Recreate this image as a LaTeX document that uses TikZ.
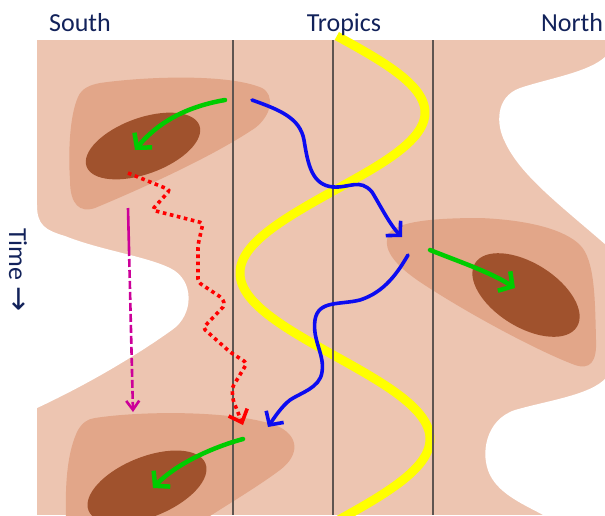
\documentclass[tikz,border=0pt]{standalone}
\usepackage{fontspec}
\setmainfont{Carlito}
\newfontfamily\dejavu{DejaVu Sans}
\usetikzlibrary{arrows.meta}
\definecolor{bgpink}{RGB}{237,197,177}
\definecolor{midblob}{RGB}{226,166,137}
\definecolor{darkblob}{RGB}{160,82,45}
\definecolor{txtblue}{RGB}{18,34,90}
\definecolor{gridline}{RGB}{95,85,80}
\definecolor{grn}{RGB}{0,204,0}
\definecolor{blu}{RGB}{12,12,240}
\definecolor{mag}{RGB}{204,0,153}
\definecolor{ylw}{RGB}{255,255,0}
\begin{document}
\begin{tikzpicture}[x=1pt,y=1pt,
  lbl/.style={font=\fontsize{26}{30}\selectfont, text=txtblue, inner sep=0pt},
  midfill/.style={fill=midblob},
  darkfill/.style={fill=darkblob},
  gridl/.style={draw=gridline, line width=1.3pt},
  garrow/.style={draw=grn, line width=4.5pt, line cap=round, -{Straight Barb[length=10pt,width=23pt]}},
  barrow/.style={draw=blu, line width=3.6pt, line cap=round, -{Straight Barb[length=10pt,width=21pt]}},
  rarrow/.style={draw=red, line width=3.6pt, dash pattern=on 3.6pt off 3.6pt, rounded corners=3pt, -{Straight Barb[length=11pt,width=20pt]}},
  marrow/.style={draw=mag, line width=2.6pt, -{Straight Barb[length=9pt,width=13pt]}},
]
\useasboundingbox (0,0) rectangle (605,-515);
\clip (0,0) rectangle (605,-515);
% background band
\fill[bgpink] (37,-40) rectangle (605,-515);
% white cut-outs
\fill[white] (30,-205) -- (37,-205) .. controls (37,-225) and (45,-230) .. (65,-236)
  .. controls (100,-250) and (145,-256) .. (170,-268)
  .. controls (195,-280) and (194,-315) .. (172,-330)
  .. controls (130,-360) and (80,-388) .. (37,-408) -- (30,-408) -- cycle;
\fill[white] (606,-56) .. controls (590,-72) and (550,-78) .. (520,-88)
  .. controls (495,-97) and (496,-125) .. (505,-142)
  .. controls (520,-175) and (560,-205) .. (606,-245) -- cycle;
\fill[white] (606,-378) .. controls (590,-395) and (550,-400) .. (515,-410)
  .. controls (485,-420) and (480,-455) .. (490,-475)
  .. controls (500,-495) and (525,-505) .. (545,-516) -- (606,-516) -- cycle;
% medium blobs
\fill[midfill] (100,-83) .. controls (150,-76) and (230,-74) .. (262,-88)
  .. controls (275,-95) and (272,-115) .. (255,-128)
  .. controls (215,-155) and (150,-185) .. (95,-208)
  .. controls (80,-213) and (70,-205) .. (70,-180)
  .. controls (68,-150) and (70,-115) .. (78,-97)
  .. controls (82,-88) and (90,-85) .. (100,-83) -- cycle;
\fill[midfill] (390,-232) .. controls (400,-222) and (430,-218) .. (480,-218)
  .. controls (530,-220) and (565,-230) .. (580,-245)
  .. controls (595,-260) and (595,-300) .. (596,-340)
  .. controls (597,-362) and (590,-370) .. (575,-365)
  .. controls (540,-352) and (470,-315) .. (420,-282)
  .. controls (395,-265) and (380,-248) .. (390,-232) -- cycle;
\fill[midfill] (95,-418) .. controls (140,-411) and (230,-410) .. (275,-425)
  .. controls (300,-435) and (300,-455) .. (280,-470)
  .. controls (260,-485) and (235,-500) .. (210,-516) -- (66,-516)
  .. controls (65,-480) and (68,-450) .. (78,-430)
  .. controls (83,-422) and (88,-419) .. (95,-418) -- cycle;
% dark cores
\fill[darkfill, rotate around={20:(143,-146)}] (143,-146) ellipse [x radius=60pt, y radius=28pt];
\fill[darkfill, rotate around={-32:(526,-295)}] (526,-295) ellipse [x radius=60pt, y radius=32pt];
\fill[darkfill, rotate around={22:(147,-487)}] (147,-487) ellipse [x radius=63pt, y radius=30pt];
% yellow wave
\draw[ylw, line width=9pt]
  plot[domain=36:190, samples=80] ({335+90*sin((\x-35)/155*180)}, {-\x})
  -- plot[domain=190:520, samples=160] ({335-95*sin((\x-190)/166*180)}, {-\x});
% vertical lines
\foreach \vx in {233,333,433} \draw[gridl] (\vx,-40) -- (\vx,-515);
% green arrows
\coordinate (g1s) at (225,-100); \coordinate (g1e) at (135,-150);
\coordinate (g2s) at (430,-250); \coordinate (g2e) at (515,-288);
\coordinate (g3s) at (243,-439); \coordinate (g3e) at (153,-488);
\draw[garrow] (g1s) .. controls (190,-106) and (160,-120) .. (g1e);
\draw[garrow] (g2s) .. controls (460,-262) and (490,-272) .. (g2e);
\draw[garrow] (g3s) .. controls (210,-448) and (175,-465) .. (g3e);
% blue arrows
\coordinate (b1s) at (252,-100); \coordinate (b1e) at (402,-237);
\coordinate (b2s) at (408,-255); \coordinate (b2e) at (268,-427);
\draw[barrow] (b1s) .. controls (280,-110) and (300,-118) .. (304,-140)
  .. controls (308,-165) and (312,-185) .. (333,-187)
  .. controls (350,-188) and (360,-178) .. (372,-192)
  .. controls (380,-205) and (390,-225) .. (b1e);
\draw[barrow] (b2s) .. controls (398,-272) and (385,-292) .. (360,-300)
  .. controls (340,-305) and (318,-300) .. (315,-320)
  .. controls (312,-340) and (325,-355) .. (322,-372)
  .. controls (320,-388) and (300,-393) .. (290,-400)
  .. controls (282,-406) and (274,-418) .. (b2e);
% red dotted path
\coordinate (r0) at (128,-173); \coordinate (r1) at (243,-425);
\draw[rarrow] (r0) -- (170,-190) -- (152,-210) -- (203,-223) -- (198,-245)
  -- (198,-282) -- (222,-298) -- (225,-305) -- (203,-328) -- (230,-352)
  -- (247,-363) -- (232,-388) -- (233,-400) -- (r1);
% magenta dashed
\coordinate (m0) at (128,-208); \coordinate (m1) at (133,-412);
\draw[marrow, dash pattern=on 48pt off 3pt on 8pt off 3pt on 8pt off 3pt on 8pt off 3pt on 8pt off 3pt on 8pt off 3pt on 8pt off 3pt on 8pt off 3pt on 8pt off 3pt on 8pt off 3pt on 8pt off 3pt on 8pt off 3pt on 8pt off 3pt on 8pt off 3pt on 8pt off 3pt on 8pt off 3pt] (m0) -- (m1);
% labels
\node[lbl, anchor=base] (south) at (80,-31) {South};
\node[lbl, anchor=base] (tropics) at (344,-31) {Tropics};
\node[lbl, anchor=base] (north) at (572,-31) {North};
\node[lbl, rotate=-90] (time) at (18,-270) {Time\hspace{6pt}{\dejavu\fontsize{30}{30}\selectfont →}};
\end{tikzpicture}
\end{document}
